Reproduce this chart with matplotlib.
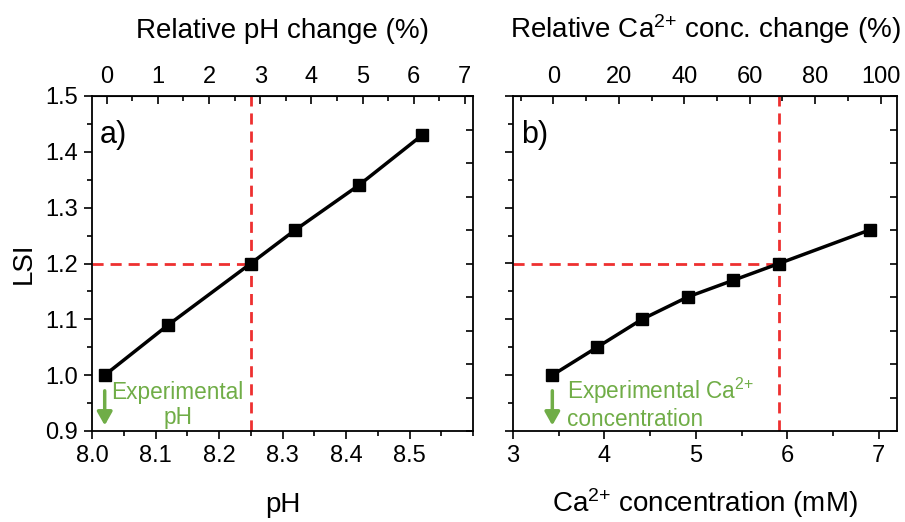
import matplotlib
matplotlib.use("Agg")
import matplotlib.pyplot as plt
from matplotlib.ticker import MultipleLocator, FixedLocator, NullFormatter
import numpy as np

plt.rcParams['font.family'] = ['Liberation Sans', 'DejaVu Sans']
plt.rcParams['mathtext.fontset'] = 'custom'
plt.rcParams['mathtext.rm'] = 'Liberation Sans'
plt.rcParams['mathtext.it'] = 'Liberation Sans:italic'
plt.rcParams['mathtext.bf'] = 'Liberation Sans:bold'

# LSI versus pH
ph = [8.02, 8.12, 8.25, 8.32, 8.42, 8.52]
lsi_ph = [1.00, 1.09, 1.20, 1.26, 1.34, 1.43]

# LSI versus calcium concentration (mM)
ca = [3.43, 3.92, 4.41, 4.91, 5.41, 5.91, 6.90]
lsi_ca = [1.00, 1.05, 1.10, 1.14, 1.17, 1.20, 1.26]

# target LSI and the values that reach it
lsi_target = 1.2
ph_target = 8.25
ca_target = 5.91

# reference points for the relative-change axes
ph0, ph_per_pct = 8.023, 0.0806
ca0, ca_per_pct = 3.441, 0.0358

RED = '#ee3030'
GREEN = '#70ad47'
TICK_FS = 17
LABEL_FS = 20
NOTE_FS = 16.3
DASH = (0, (4, 2.5))

fig = plt.figure(figsize=(9.05, 5.22), dpi=100)
axL = fig.add_axes([92/905, 1-431/522, 381/905, 335/522])
axR = fig.add_axes([513/905, 1-431/522, 384/905, 335/522])


def style_axes(ax):
    for s in ax.spines.values():
        s.set_linewidth(1.3)
    ax.tick_params(axis='both', which='major', direction='out', length=6, width=1.2,
                   labelsize=TICK_FS, pad=4)
    ax.tick_params(axis='both', which='minor', direction='out', length=3.5, width=1.2)
    ax.set_ylim(0.9, 1.5)
    ax.yaxis.set_major_locator(MultipleLocator(0.1))
    ax.yaxis.set_minor_locator(MultipleLocator(0.05))
    # unlabeled inner ticks on the right spine
    tw = ax.twinx()
    tw.set_ylim(0, 10)
    tw.yaxis.set_major_locator(MultipleLocator(1))
    tw.tick_params(axis='y', direction='in', length=5, width=1.2, labelright=False)
    for s in tw.spines.values():
        s.set_visible(False)


def top_axis(ax, fwd, inv, majors, minors, label):
    top = ax.secondary_xaxis('top', functions=(fwd, inv))
    top.xaxis.set_major_locator(FixedLocator(majors))
    top.xaxis.set_minor_locator(FixedLocator(minors))
    top.tick_params(which='major', direction='in', length=6, width=1.2,
                    labelsize=TICK_FS, pad=6)
    top.tick_params(which='minor', direction='in', length=3.5, width=1.2)
    top.set_xlabel(label, fontsize=LABEL_FS, labelpad=20)
    return top


# ---- panel a ----
style_axes(axL)
axL.set_xlim(8.0, 8.6)
axL.xaxis.set_major_locator(FixedLocator([8.0, 8.1, 8.2, 8.3, 8.4, 8.5]))
axL.xaxis.set_minor_locator(MultipleLocator(0.05))
axL.set_xticklabels(['8.0', '8.1', '8.2', '8.3', '8.4', '8.5'])
axL.set_yticks([0.9, 1.0, 1.1, 1.2, 1.3, 1.4, 1.5])
axL.set_yticklabels(['0.9', '1.0', '1.1', '1.2', '1.3', '1.4', '1.5'])
axL.set_xlabel('pH', fontsize=LABEL_FS, labelpad=18)
axL.set_ylabel('LSI', fontsize=LABEL_FS, labelpad=6)

axL.axvline(ph_target, color=RED, lw=2, ls=DASH, zorder=2)
axL.plot([8.0, ph_target], [lsi_target, lsi_target], color=RED, lw=2, ls=DASH, zorder=2)
axL.plot(ph, lsi_ph, color='black', lw=2.5, marker='s', ms=8, zorder=3)
axL.text(0.02, 0.86, 'a)', transform=axL.transAxes, fontsize=22)
axL.annotate('', xy=(ph[0], 0.905), xytext=(ph[0], 0.977),
             arrowprops=dict(arrowstyle='-|>,head_width=0.45,head_length=0.8',
                             color=GREEN, lw=2.5))
axL.text(8.135, 0.946, 'Experimental\npH', color=GREEN, fontsize=NOTE_FS,
         ha='center', va='center', linespacing=1.12)

top_axis(axL, lambda x: (x - ph0) / ph_per_pct, lambda p: ph0 + p * ph_per_pct,
         np.arange(0, 8, 1), np.arange(0.5, 7.5, 1), 'Relative pH change (%)')

# ---- panel b ----
style_axes(axR)
axR.set_xlim(3, 7.2)
axR.xaxis.set_major_locator(MultipleLocator(1))
axR.xaxis.set_minor_locator(MultipleLocator(0.5))
axR.yaxis.set_major_formatter(NullFormatter())
axR.set_xlabel('Ca$^{2{+}}$ concentration (mM)', fontsize=LABEL_FS, labelpad=14)

axR.axvline(ca_target, color=RED, lw=2, ls=DASH, zorder=2)
axR.plot([3, ca_target], [lsi_target, lsi_target], color=RED, lw=2, ls=DASH, zorder=2)
axR.plot(ca, lsi_ca, color='black', lw=2.5, marker='s', ms=8, zorder=3)
axR.text(0.02, 0.86, 'b)', transform=axR.transAxes, fontsize=22)
axR.annotate('', xy=(ca[0], 0.905), xytext=(ca[0], 0.977),
             arrowprops=dict(arrowstyle='-|>,head_width=0.45,head_length=0.8',
                             color=GREEN, lw=2.5))
axR.text(3.59, 0.95, 'Experimental Ca$^{2{+}}$\nconcentration', color=GREEN,
         fontsize=NOTE_FS, ha='left', va='center', linespacing=1.1)

top_axis(axR, lambda x: (x - ca0) / ca_per_pct, lambda p: ca0 + p * ca_per_pct,
         np.arange(0, 101, 20), np.arange(-10, 101, 20),
         'Relative Ca$^{2{+}}$ conc. change (%)')

fig.savefig('out.png', dpi=100)
